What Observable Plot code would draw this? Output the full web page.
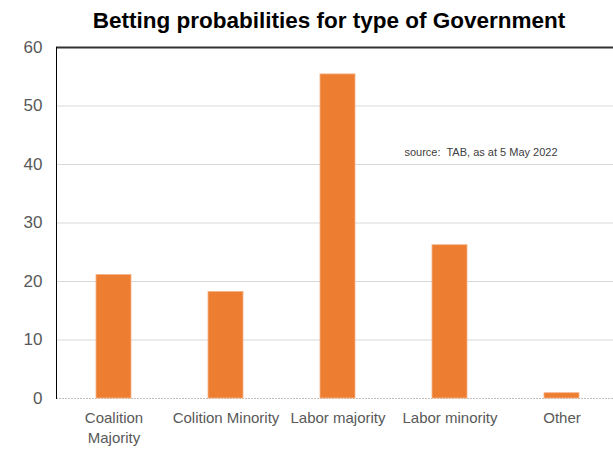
<!DOCTYPE html>
<html>
<head>
<meta charset="utf-8">
<script src="https://cdn.jsdelivr.net/npm/d3@7"></script>
<script src="https://cdn.jsdelivr.net/npm/@observablehq/plot@0.6"></script>
<style>
  html, body { margin: 0; padding: 0; background: #fff; }
  svg { display: block; }
</style>
</head>
<body>
<div id="chart"></div>
<script>
const title = "Betting probabilities for type of Government";
const categories = ["Coalition Majority", "Colition Minority", "Labor majority", "Labor minority", "Other"];
const values = [21.1, 18.2, 55.4, 26.2, 0.9];
const yTicks = [0, 10, 20, 30, 40, 50, 60];
const note = "source:  TAB, as at 5 May 2022";
const noteAt = {category: "Labor minority", value: 42};

const data = categories.map((c, i) => ({category: c, value: values[i]}));

const chart = Plot.plot({
  width: 613,
  height: 461,
  marginTop: 47,
  marginBottom: 63,
  marginLeft: 56,
  marginRight: 0,
  style: {fontFamily: "'Liberation Sans', Arial, sans-serif", background: "#fff"},
  x: {domain: categories, range: [56, 618.5], paddingInner: 0.69, paddingOuter: 0.345, align: 0.5},
  y: {domain: [0, 60], range: [398, 47]},
  marks: [
    Plot.ruleY(yTicks.filter(d => d > 0 && d < 60), {stroke: "#d9d9d9", strokeWidth: 1}),
    Plot.ruleY([0], {stroke: "#bfbfbf", strokeWidth: 1, strokeDasharray: "2,1"}),
    Plot.barY(data, {x: "category", y: "value", fill: "#ED7D31", stroke: "#F4B183", strokeWidth: 0.8}),
    Plot.ruleY([60], {stroke: "#333", strokeWidth: 2}),
    Plot.frame({anchor: "left", stroke: "#000", strokeWidth: 1}),
    Plot.axisY({ticks: yTicks, tickSize: 0, tickPadding: 14, fontSize: 17, fill: "#595959", label: null}),
    Plot.axisX({
      tickSize: 0, tickPadding: 10, label: null,
      fontSize: 15, fill: "#595959", lineHeight: 1.33,
      tickFormat: d => d === "Coalition Majority" ? "Coalition\nMajority" : d
    }),
    Plot.text([note], {
      x: () => noteAt.category, y: () => noteAt.value, dx: 31,
      text: d => d, fontSize: 11, fill: "#404040",
      textAnchor: "middle", lineAnchor: "middle"
    }),
    Plot.text([title], {
      frameAnchor: "top", dx: -6, dy: -20, text: d => d,
      fontSize: 22.5, fontWeight: "bold", fill: "#000", lineAnchor: "bottom"
    })
  ]
});
document.getElementById("chart").appendChild(chart);
</script>
</body>
</html>
